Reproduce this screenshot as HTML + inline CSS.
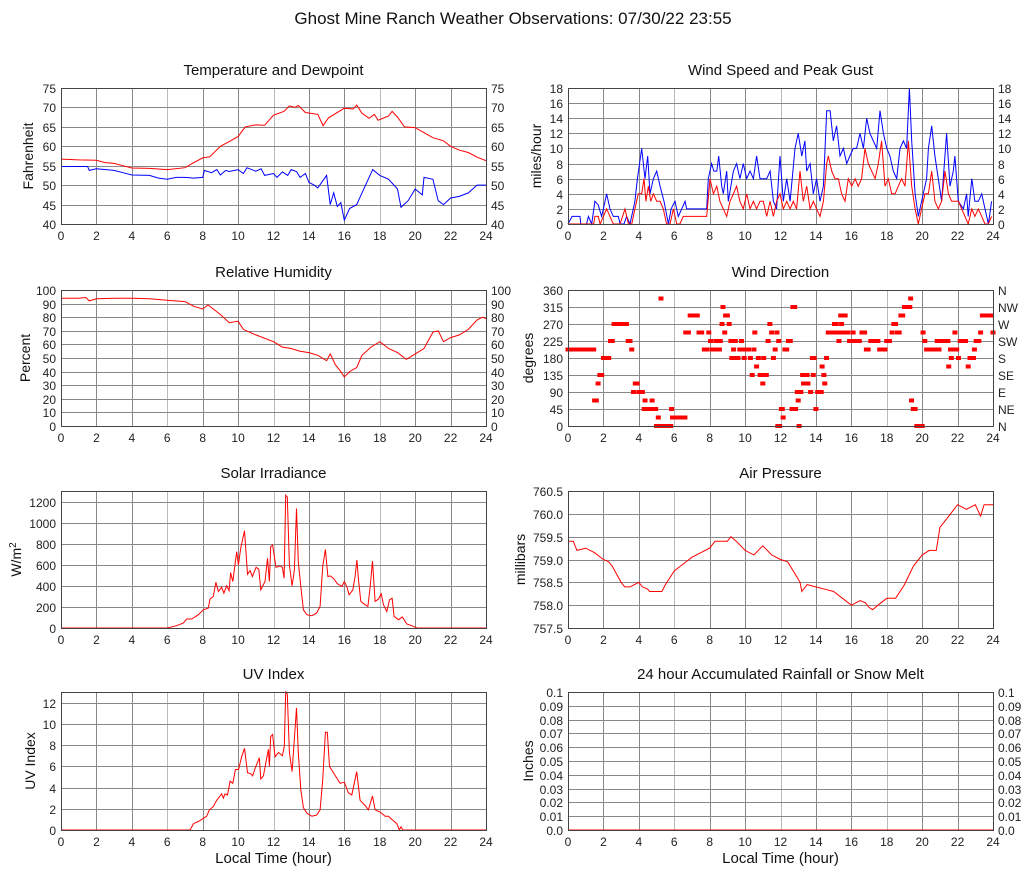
<!DOCTYPE html>
<html><head><meta charset="utf-8"><style>
html,body{margin:0;padding:0;background:#fff;}
svg{display:block;font-family:"Liberation Sans",Arial,sans-serif;}
</style></head><body>
<svg id="chart" width="1027" height="878" viewBox="0 0 1027 878" xmlns="http://www.w3.org/2000/svg">
<text x="513" y="24" font-size="17" text-anchor="middle" fill="#111">Ghost Mine Ranch Weather Observations: 07/30/22 23:55</text>
</svg>
<script>
// ---- data ----
const tempHours=[0,1,2,2.5,3,3.5,4,5,6,7,7.5,8,8.4,9,9.5,10,10.4,11,11.5,12,12.6,12.9,13.2,13.4,13.8,14.5,14.8,15.1,16,16.5,16.7,17,17.4,17.7,17.9,18.5,18.7,19,19.4,20,20.5,21,21.6,22,22.5,23,23.5,24];
const tempValues=[56.7,56.5,56.4,55.8,55.6,55,54.4,54.3,54,54.5,55.8,57,57.3,60,61.2,62.5,65,65.5,65.4,68,69,70.4,70,70.5,68.7,68.2,65.3,67.3,69.8,69.6,70.6,68.5,67.2,68.2,66.7,67.8,69,67.5,65,64.8,63.5,62.2,61.4,60,59,58.4,57.2,56.3];
const dewHours=[0,1.5,1.6,2,3,3.5,4,5,5.5,6,6.5,7,7.5,8,8.1,8.5,8.8,9,9.3,9.5,10,10.3,10.5,11,11.3,11.5,12,12.2,12.5,12.8,13,13.3,13.5,13.8,14,14.3,14.5,15,15.2,15.4,15.6,15.8,16,16.3,16.7,17,17.2,17.6,18,18.5,19,19.2,19.6,20,20.4,20.5,21,21.3,21.6,22,22.5,23,23.5,24];
const dewValues=[54.8,54.8,53.8,54.2,53.8,53.2,52.6,52.5,51.8,51.5,52,52,51.8,52,53.8,53.2,54,52.6,53.8,53.5,54,53,54.5,53.6,54.2,52.5,53,52,53.4,52.5,54,53.5,52,53,50.7,50,49.3,52.5,45,48,44.5,45.5,41,44,45,48,50,54,52.5,51.5,49,44.3,46,49,47.5,52,51.5,46,45,46.7,47.1,48,50,50];
const gustHours=[0,.23,.68,.72,1.05,1.15,1.34,1.52,1.71,1.9,2.0,2.18,2.37,2.56,2.84,2.94,3.16,3.31,3.5,3.78,3.92,4.16,4.35,4.5,4.63,4.82,5.01,5.2,5.42,5.67,5.82,6.04,6.23,6.42,6.61,6.7,7.83,7.92,8.11,8.24,8.4,8.51,8.68,8.77,8.96,9.05,9.34,9.52,9.71,9.9,10.09,10.28,10.47,10.65,10.84,11.22,11.41,11.6,11.78,11.97,12.16,12.35,12.54,12.82,13.0,13.2,13.38,13.48,13.67,13.85,14.04,14.23,14.42,14.61,14.8,14.98,15.17,15.36,15.55,15.74,15.92,16.11,16.3,16.49,16.68,16.87,17.05,17.24,17.43,17.62,17.81,18.0,18.18,18.37,18.56,18.75,18.94,19.12,19.28,19.41,19.6,19.78,19.97,20.25,20.35,20.54,20.72,20.91,21.1,21.38,21.57,21.76,21.85,22.04,22.33,22.51,22.6,22.8,22.98,23.17,23.36,23.55,23.74,23.92];
const gustValues=[0,1,1,0,0,1,0,3,2.5,1,2,4,2,1,1,0,0,1,0,3,6,10,6,9,4,6,7,5,3,0,2,3,1,2,3,2,2,6,8,7,7,9,5,4,7,3,7,8,6,8,6,7,6,9,6,6,7,3,2,9,3,6,3,10,12,9,11,7,8,4,6,3,5,15,15,11,13,9,10,8,9,10,10,12,10,14,12,11,10,15,12,10,9,7,6,10,11,10,18,11,4,1,3,6,10,13,9,6,3,12,5,7,9,3,2,4,1,6,3,3,4,2,0,3];
const speedHours=[0,1.45,1.52,1.71,1.81,2.0,2.18,2.37,2.56,2.94,3.22,3.41,3.6,3.78,3.97,4.16,4.29,4.4,4.54,4.67,4.82,5.01,5.2,5.38,5.57,5.76,5.95,6.14,6.32,6.51,7.83,8.02,8.21,8.4,8.58,8.77,8.96,9.15,9.34,9.52,9.71,9.9,10.09,10.28,10.47,10.65,10.84,11.03,11.22,11.41,11.6,11.78,11.97,12.16,12.35,12.54,12.72,12.91,13.1,13.29,13.48,13.67,13.85,14.04,14.23,14.42,14.61,14.7,14.89,15.08,15.27,15.45,15.64,15.83,16.02,16.21,16.39,16.58,16.77,16.96,17.15,17.34,17.52,17.71,17.9,18.09,18.28,18.47,18.65,18.84,19.03,19.22,19.41,19.6,19.78,19.97,20.16,20.35,20.54,20.72,20.91,21.1,21.29,21.48,21.67,21.85,22.04,22.23,22.42,22.6,22.8,22.98,23.17,23.36,23.55,23.74,23.92];
const speedValues=[0,0,1,1,0,1,2,1,0,0,2,0,0,2,4,4,6,3,5,3,4,3,3,2,0,0,2,0,0,1,1,6,4,5,3,2,1,3,4,5,3,2,4,2,3,2,3,3,1,3,1,3,4,2,3,2,3,2,7,3,5,2,3,2,1,3,8,9,7,6,6,4,3,6,5,6,5,6,10,8,7,6,8,11,5,6,4,4,5,6,5,11,5,2,0,2,4,4,7,3,2,3,7,4,3,3,3,2,1,0,2,1,2,1,0,0,1];
const rhHours=[0,1,1.4,1.6,2,3,4,5,6,7,7.5,8,8.3,9,9.5,10,10.3,11,12,12.5,13,13.5,14,14.5,15,15.2,15.5,15.8,16,16.3,16.7,17,17.5,18,18.5,19,19.5,20,20.5,21,21.3,21.6,22,22.5,23,23.5,23.8,24];
const rhValues=[94,94,94.5,92,93.5,94,94,93.5,92.5,91.5,88,86,89,82,76,77,71,67,62,58,57,55,54,52,48,53,45,40,36,40,43,52,58,62,57,54,49,53,57,69,70,62,65,67,71,78,80,79];
const dirDegrees=[202.5,67.5,112.5,135,180,225,270,225,202.5,90,112.5,90,45,67.5,0,22.5,337.5,45,22.5,247.5,292.5,247.5,202.5,247.5,225,202.5,225,270,315,247.5,292.5,270,225,180,202.5,225,180,202.5,225,180,180,135,202.5,247.5,157.5,180,135,112.5,180,135,225,270,247.5,180,202.5,247.5,225,0,45,22.5,202.5,225,45,315,45,90,67.5,0,90,135,112.5,135,112.5,90,180,135,45,90,157.5,135,112.5,180,247.5,270,247.5,225,292.5,270,247.5,292.5,225,247.5,247.5,202.5,225,202.5,225,247.5,270,247.5,292.5,315,337.5,67.5,45,0,247.5,225,202.5,225,225,157.5,202.5,180,247.5,180,225,157.5,180,202.5,225,247.5,292.5,247.5];
const dirHours=[[0,.15,.3,.45,.6,.75,.9,1.05,1.2,1.35,1.45],[1.5,1.6],[1.7],[1.8,1.9],[2.0,2.1,2.2,2.3],[2.4,2.5],[2.6,2.75,2.9,3.05,3.2,3.3],[3.4,3.5],[3.6],[3.7],[3.8,3.9],[4.0,4.1,4.2],[4.3,4.45,4.6,4.85,4.95],[4.35,4.75],[5.0,5.2,5.35,5.5,5.65,5.8],[5.1],[5.25],[5.85],[5.9,6.05,6.2,6.35,6.5,6.6],[6.65,6.8],[6.9,7.05,7.2,7.3],[7.4,7.55],[7.7,7.85],[7.95],[8.05],[8.15,8.3,8.45,8.55],[8.35,8.6],[8.7],[8.75],[8.85],[8.9,9.0],[9.1],[9.2],[9.25],[9.35],[9.45],[9.5,9.6],[9.7,9.85,10.0,10.1,10.2],[9.8],[9.95],[10.3],[10.4],[10.5],[10.55],[10.65],[10.75],[10.85,10.95],[11.0],[11.05],[11.2],[11.3],[11.4],[11.5],[11.6],[11.7],[11.8],[11.9],[11.85,11.95],[12.05,12.1],[12.15],[12.25,12.35],[12.45,12.55],[12.65],[12.7,12.8],[12.85],[12.95],[13.0],[13.05],[13.15],[13.25],[13.3,13.4],[13.5],[13.55],[13.7],[13.8,13.9],[13.85],[14.0],[14.1,14.2,14.3],[14.35],[14.45],[14.5],[14.6],[14.7,14.8,14.9,15.0],[15.05,15.15],[15.25],[15.3],[15.4],[15.45],[15.5,15.6,15.7,15.8],[15.65],[15.9,16.0,16.2,16.3,16.45],[16.1],[16.6,16.75],[16.85,16.95],[17.1,17.25,17.4,17.5],[17.6,17.75,17.9],[18.0,18.15],[18.3],[18.4,18.5],[18.6,18.7],[18.8,18.9],[19.0,19.1,19.2,19.3],[19.35],[19.4],[19.5,19.6],[19.7,19.8,19.9,20.0],[20.05],[20.15],[20.25,20.4,20.55,20.7,20.95],[20.85],[21.05,21.2,21.35,21.45],[21.5],[21.6,21.75,21.95],[21.65],[21.85],[22.05],[22.15,22.3,22.45],[22.6],[22.7,22.8,22.9],[22.95],[23.05,23.2],[23.3],[23.4,23.5,23.6,23.7,23.8,23.9],[24.0]];
const solarHours=[0,6.0,6.53,6.91,7.1,7.38,7.76,8.04,8.32,8.42,8.6,8.75,8.89,9.07,9.2,9.36,9.49,9.58,9.7,9.92,10.02,10.15,10.36,10.53,10.68,10.81,11.02,11.17,11.28,11.52,11.66,11.77,11.84,11.95,12.14,12.37,12.5,12.6,12.69,12.78,12.9,13.05,13.18,13.3,13.4,13.54,13.69,13.88,14.16,14.44,14.63,14.78,14.93,15.07,15.2,15.38,15.61,15.86,16.0,16.14,16.27,16.48,16.61,16.71,16.8,16.93,17.18,17.33,17.46,17.59,17.74,17.93,18.08,18.21,18.4,18.55,18.7,18.81,19.06,19.28,19.53,19.81,20.1,24];
const solarValues=[0,0,22,47,85,85,126,173,189,277,299,435,346,387,331,400,353,526,441,724,598,756,923,510,545,488,576,558,362,441,661,441,772,787,576,589,576,472,1260,1244,598,400,551,1134,630,394,173,126,117,142,205,583,746,488,494,472,419,394,441,394,315,362,488,646,457,252,220,205,394,636,252,274,324,220,157,268,283,110,79,104,38,22,0,0];
const uvHours=[0,7.29,7.48,7.76,8.04,8.23,8.38,8.6,8.79,8.98,9.07,9.17,9.26,9.4,9.55,9.7,9.85,10.03,10.2,10.36,10.53,10.71,10.82,10.96,11.2,11.28,11.43,11.71,11.77,11.84,11.95,12.09,12.28,12.5,12.61,12.69,12.78,12.9,13.05,13.3,13.4,13.54,13.69,13.88,14.16,14.44,14.63,14.78,14.93,15.04,15.16,15.38,15.76,16.0,16.23,16.42,16.7,16.89,17.18,17.36,17.59,17.74,18.02,18.3,18.49,18.68,18.96,19.11,19.2,19.3,24];
const uvValues=[0,0,.6,.8,1.1,1.3,1.9,2.2,2.8,3.2,3.4,3.0,3.4,3.3,4.6,4.4,5.7,5.7,6.9,7.7,5.4,5.3,5.1,5.8,6.8,4.8,5.1,7.6,6.0,8.8,9.0,6.9,7.3,7.0,7.9,13,12.8,7.3,5.5,11.5,7.3,3.8,2.1,1.6,1.3,1.4,1.9,4.7,9.2,9.2,6.0,5.4,4.4,4.5,3.5,3.3,5.5,2.8,2.3,1.9,3.2,1.9,1.7,1.3,1.3,1.0,.6,0,.3,0,0];
const presHours=[0,.3,.5,1,1.5,2,2.3,2.5,3,3.2,3.5,4,4.2,4.5,4.6,5.3,5.5,6,6.5,7,7.5,8,8.3,9,9.2,9.5,10,10.5,11,11.5,12,12.4,12.8,13.1,13.2,13.5,14,14.5,15,15.5,16,16.5,16.8,17,17.2,17.5,18,18.5,19,19.5,20,20.4,20.8,21,21.3,22,22.5,23,23.3,23.5,24];
const presValues=[759.4,759.4,759.2,759.25,759.15,759.0,758.95,758.85,758.5,758.4,758.4,758.5,758.4,758.35,758.3,758.3,758.45,758.75,758.9,759.05,759.15,759.25,759.4,759.4,759.5,759.4,759.2,759.1,759.3,759.1,759.0,758.95,758.7,758.5,758.3,758.45,758.4,758.35,758.3,758.15,758.0,758.1,758.05,757.95,757.9,758.0,758.15,758.15,758.45,758.85,759.1,759.2,759.2,759.7,759.85,760.2,760.1,760.2,759.95,760.2,760.2];
const rainHours=[0,24];
const rainValues=[0,0];
const xTickLabels=["0","2","4","6","8","10","12","14","16","18","20","22","24"];
const compassLabels=["N","NE","E","SE","S","SW","W","NW","N"];

// ---- drawing ----
const NS="http://www.w3.org/2000/svg";
const svg=document.getElementById('chart');
function mk(tag,attrs,parent){const e=document.createElementNS(NS,tag);for(const k in attrs)e.setAttribute(k,attrs[k]);(parent||svg).appendChild(e);return e;}
const LEFT=[61,486], RIGHT=[568,993];
const ROWS=[[88,224],[290,426],[491,628],[692,830]];

function panel(o){
  const g=mk('g',{});
  
  
  const [x0,x1]=o.cols,[y0,y1]=o.rows;
  const xs=h=>x0+(x1-x0)*h/24;
  const ys=v=>y1-(y1-y0)*(v-o.ymin)/(o.ymax-o.ymin);
  // grid
  for(let i=1;i<12;i++){const x=Math.round(xs(i*2))+0.5;const l=mk('line',{x1:x,x2:x,y1:y0,y2:y1,stroke:(i%3==0)?'#bbb':'#888','stroke-width':1},g);
    }
  o.ticks.forEach((v,i)=>{const y=Math.round(ys(v))+0.5;
    if(v!==o.ymin&&v!==o.ymax){const l=mk('line',{x1:x0,x2:x1,y1:y,y2:y,stroke:'#888','stroke-width':1},g);
      }
    const t=mk('text',{x:x0-5,y:y+4.5,'font-size':12,'text-anchor':'end',fill:'#222'},g);t.textContent=o.labels[i];
    
    if(o.rightLabels){const r=mk('text',{x:x1+5,y:y+4.5,'font-size':12,fill:'#222'},g);r.textContent=o.rightLabels[i];
      }
  });
  xTickLabels.forEach((s,i)=>{const t=mk('text',{x:xs(i*2),y:y1+16,'font-size':12,'text-anchor':'middle',fill:'#222'},g);t.textContent=s;
    });
  const tt=mk('text',{x:(x0+x1)/2,y:y0-13,'font-size':15,'text-anchor':'middle',fill:'#111'},g);tt.textContent=o.title;
  
  const yt=mk('text',{x:0,y:0,'font-size':14,'text-anchor':'middle',fill:'#111',transform:`translate(${o.ytx},${(y0+y1)/2}) rotate(-90)`},g);
  
  if(o.ytitleHTML){yt.innerHTML=o.ytitleHTML;}else yt.textContent=o.ytitle;
  if(o.xtitle){const xt=mk('text',{x:(x0+x1)/2,y:y1+33,'font-size':15,'text-anchor':'middle',fill:'#111'},g);xt.textContent='Local Time (hour)';
    }
  (o.series||[]).forEach(s=>{
    const d=s.h.map((h,i)=>(i?'L':'M')+xs(h).toFixed(1)+','+ys(Math.min(o.ymax,s.v[i])).toFixed(1)).join('');
    const p=mk('path',{d:d,fill:'none',stroke:s.c,'stroke-width':1},g);
    
  });
  if(o.dots){o.dots.deg.forEach((dv,k)=>{o.dots.hours[k].forEach(h=>{
    const r=mk('rect',{x:xs(h)-2.5,y:ys(dv)-2,width:5,height:4,fill:'#f00'},g);
    });});}
  const f=mk('rect',{x:x0+0.5,y:y0+0.5,width:x1-x0,height:y1-y0,fill:'none',stroke:'#444','stroke-width':1},g);
  
}
const rng=(a,b,s)=>{const r=[];for(let v=a;v<=b+1e-9;v+=s)r.push(+v.toFixed(4));return r;};
const t1=rng(40,75,5);
panel({name:'temperature-panel',cols:LEFT,rows:ROWS[0],ymin:40,ymax:75,ticks:t1,labels:t1.map(String),rightLabels:t1.map(String),title:'Temperature and Dewpoint',ytitle:'Fahrenheit',ytx:33,
  series:[{name:'temperature-line',h:tempHours,v:tempValues,c:'#f00'},{name:'dewpoint-line',h:dewHours,v:dewValues,c:'#00f'}]});
const t2=rng(0,18,2);
panel({name:'wind-speed-panel',cols:RIGHT,rows:ROWS[0],ymin:0,ymax:18,ticks:t2,labels:t2.map(String),rightLabels:t2.map(String),title:'Wind Speed and Peak Gust',ytitle:'miles/hour',ytx:541,
  series:[{name:'peak-gust-line',h:gustHours,v:gustValues,c:'#00f'},{name:'wind-speed-line',h:speedHours,v:speedValues,c:'#f00'}]});
const t3=rng(0,100,10);
panel({name:'humidity-panel',cols:LEFT,rows:ROWS[1],ymin:0,ymax:100,ticks:t3,labels:t3.map(String),rightLabels:t3.map(String),title:'Relative Humidity',ytitle:'Percent',ytx:30,
  series:[{name:'humidity-line',h:rhHours,v:rhValues,c:'#f00'}]});
const t4=rng(0,360,45);
panel({name:'wind-direction-panel',cols:RIGHT,rows:ROWS[1],ymin:0,ymax:360,ticks:t4,labels:t4.map(String),rightLabels:compassLabels,title:'Wind Direction',ytitle:'degrees',ytx:533,
  dots:{deg:dirDegrees,hours:dirHours}});
const t5=rng(0,1200,200);
panel({name:'solar-panel',cols:LEFT,rows:ROWS[2],ymin:0,ymax:1300,ticks:t5,labels:t5.map(String),title:'Solar Irradiance',ytitleHTML:'W/m<tspan dy="-5" font-size="10">2</tspan>',ytx:21,
  series:[{name:'solar-line',h:solarHours,v:solarValues,c:'#f00'}]});
const t6=rng(757.5,760.5,0.5);
panel({name:'pressure-panel',cols:RIGHT,rows:ROWS[2],ymin:757.5,ymax:760.5,ticks:t6,labels:t6.map(v=>v.toFixed(1)),title:'Air Pressure',ytitle:'millibars',ytx:525,
  series:[{name:'pressure-line',h:presHours,v:presValues,c:'#f00'}]});
const t7=rng(0,12,2);
panel({name:'uv-panel',cols:LEFT,rows:ROWS[3],ymin:0,ymax:13,ticks:t7,labels:t7.map(String),title:'UV Index',ytitle:'UV Index',ytx:35,xtitle:true,
  series:[{name:'uv-line',h:uvHours,v:uvValues,c:'#f00'}]});
const t8=rng(0,0.1,0.01);
const l8=t8.map(v=>v===0?'0.0':String(+v.toFixed(2)));
panel({name:'rainfall-panel',cols:RIGHT,rows:ROWS[3],ymin:0,ymax:0.1,ticks:t8,labels:l8,rightLabels:l8,title:'24 hour Accumulated Rainfall or Snow Melt',ytitle:'Inches',ytx:533,xtitle:true,
  series:[{name:'rainfall-line',h:rainHours,v:rainValues,c:'#f00'}]});
</script>
</body></html>
